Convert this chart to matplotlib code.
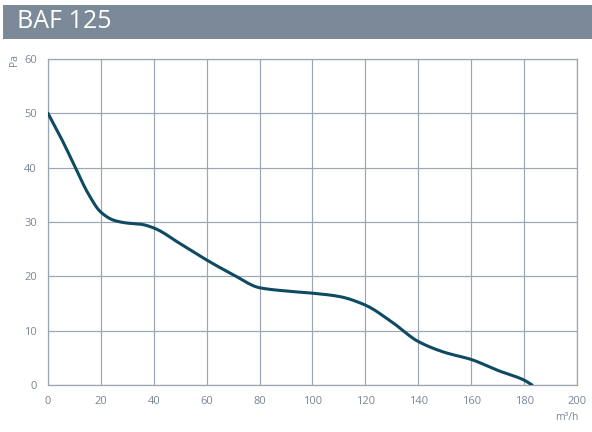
import numpy as np
import matplotlib
matplotlib.use("Agg")
import matplotlib.pyplot as plt
from matplotlib.patches import Rectangle

title = "BAF 125"
flow = [0, 5, 10, 15, 20, 25, 30, 35, 40, 50, 60, 70, 80, 90, 100, 110, 120, 130, 140, 150, 160, 170, 180, 183]
pressure = [50, 45.4, 40.4, 35.4, 31.8, 30.3, 29.8, 29.6, 28.9, 26.0, 23.0, 20.3, 17.9, 17.3, 16.9, 16.3, 14.7, 11.6, 8.0, 6.0, 4.7, 2.7, 0.9, 0]
x_ticks = [0, 20, 40, 60, 80, 100, 120, 140, 160, 180, 200]
y_ticks = [0, 10, 20, 30, 40, 50, 60]
x_unit = "m³/h"
y_unit = "Pa"

def pchip(x, y, n=12):
    x = np.asarray(x, float); y = np.asarray(y, float)
    h = np.diff(x); d = np.diff(y) / h
    m = np.zeros_like(y)
    for k in range(1, len(x) - 1):
        if d[k-1] * d[k] > 0:
            w1 = 2*h[k] + h[k-1]; w2 = h[k] + 2*h[k-1]
            m[k] = (w1 + w2) / (w1/d[k-1] + w2/d[k])
    m[0] = d[0]; m[-1] = d[-1]
    xs, ys = [], []
    for k in range(len(x) - 1):
        t = np.linspace(0, 1, n, endpoint=False)
        h00 = 2*t**3 - 3*t**2 + 1; h10 = t**3 - 2*t**2 + t
        h01 = -2*t**3 + 3*t**2; h11 = t**3 - t**2
        xs.append(x[k] + t*h[k])
        ys.append(h00*y[k] + h10*h[k]*m[k] + h01*y[k+1] + h11*h[k]*m[k+1])
    xs.append([x[-1]]); ys.append([y[-1]])
    return np.concatenate(xs), np.concatenate(ys)

plt.rcParams['font.family'] = ['Open Sans', 'DejaVu Sans']
fig = plt.figure(figsize=(5.92, 4.32), dpi=100)
fig.patch.set_facecolor('white')

# title band
fig.patches.append(Rectangle((3/592, 1 - 39/432), 589/592, 34/432, transform=fig.transFigure,
                             facecolor='#7b8999', edgecolor='none', zorder=0))
fig.text(17/592, 1 - 22/432, title, color='white', fontsize=18, fontweight='medium',
         va='center', ha='left')

ax = fig.add_axes([48/592, 1 - 385/432, 529/592, 326/432])
grid_c = '#9ba6b5'
ax.set_xlim(0, 200)
ax.set_ylim(0, 60)
ax.set_xticks(x_ticks)
ax.set_yticks(y_ticks)
ax.grid(True, color=grid_c, linewidth=0.85)
ax.set_axisbelow(True)
for s in ax.spines.values():
    s.set_color(grid_c)
    s.set_linewidth(0.9)
ax.tick_params(length=0, colors='#7a8696', labelsize=8, pad=8)

sx, sy = pchip(flow, pressure)
ax.plot(sx, sy, color='#0e4a62', linewidth=2.2, solid_capstyle='round', zorder=3)

fig.text(15/592, 1 - 60/432, y_unit, rotation=90, color='#7a8696', fontsize=7.5, ha='center', va='center')
fig.text(567/592, 1 - 417/432, x_unit, color='#7a8696', fontsize=7.5, ha='center', va='center')

fig.savefig('out.png', dpi=100)
